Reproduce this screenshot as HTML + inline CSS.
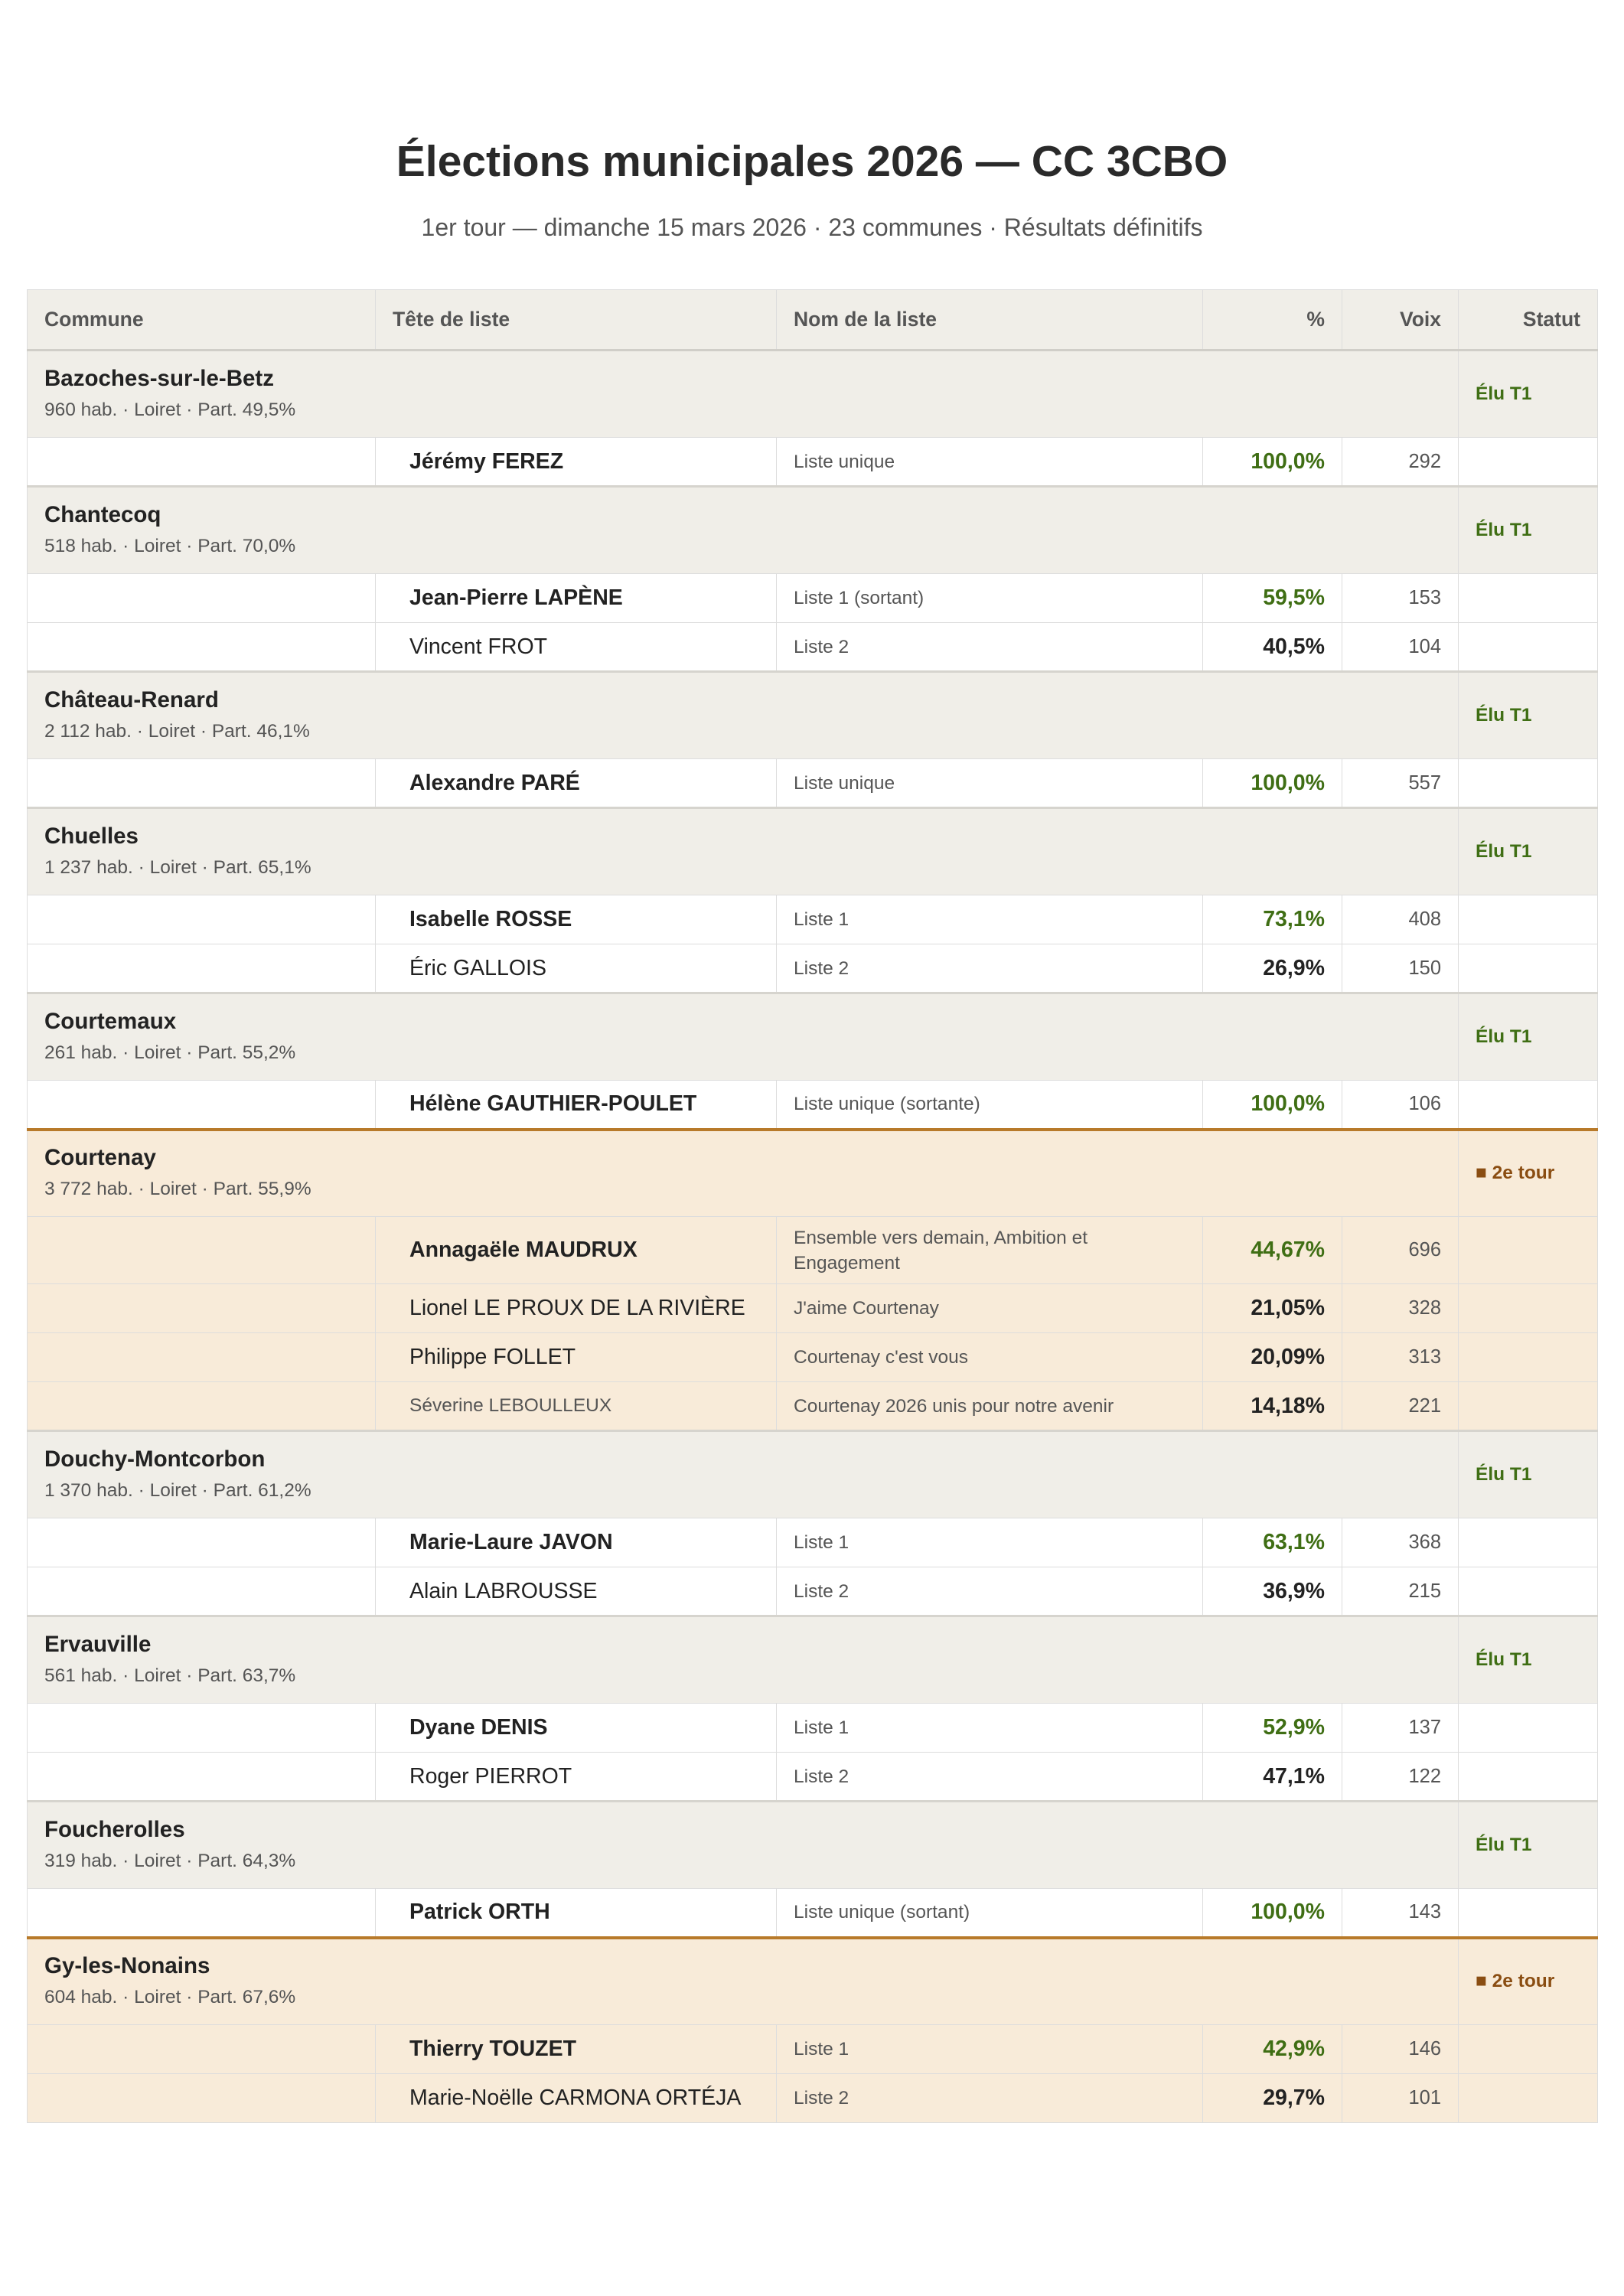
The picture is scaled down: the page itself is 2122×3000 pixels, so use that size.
<!DOCTYPE html>
<html><head><meta charset="utf-8"><style>
html,body{margin:0;padding:0;background:#fff;}
body{width:2122px;height:3000px;position:relative;font-family:"Liberation Sans",Arial,sans-serif;color:#222;}
h1{position:absolute;top:176px;left:0;width:2122px;margin:0;text-align:center;font-size:57px;font-weight:bold;color:#2a2a2a;line-height:70px;}
.sub{position:absolute;top:276px;left:0;width:2122px;text-align:center;font-size:32px;color:#555;line-height:42px;}
table{position:absolute;top:378px;left:35px;width:2052px;border-collapse:collapse;table-layout:fixed;}
td,th{border-left:1px solid #ddd;border-right:1px solid #ddd;padding:0 22px;box-sizing:border-box;vertical-align:middle;}
th{background:#f0eee8;height:79px;font-size:26.5px;color:#555;text-align:left;border-bottom:3px solid #d0cec8;border-top:1px solid #ddd;}
th.r{text-align:right;}
tr.g td{background:#f0eee8;height:114px;border-bottom:1px solid #ddd;}
tr.g.t2 td{background:#f8ebd9;border-top:4px solid #b87a2a;}
tr.c td{background:#fff;height:64px;border-bottom:1px solid #ddd;}
tr.c.t2 td{background:#f8ebd9;}
tr.c.last td{border-bottom:3px solid #d6d4ce;}
.cn{font-size:29.5px;font-weight:bold;color:#222;line-height:42px;}
.meta{font-size:24.5px;color:#555;line-height:40px;}
.st{font-size:24.5px;font-weight:bold;color:#3f6e14;}
.st2{font-size:24.5px;font-weight:bold;color:#8a4d12;}
.nm{font-size:28.5px;padding-left:44px;color:#222;}
.nm b{font-weight:bold;}
.ln{font-size:24.5px;color:#555;line-height:33px;}
.pc{font-size:28.5px;font-weight:bold;text-align:right;color:#222;}
.pc.w{color:#3f6e14;}
.vx{font-size:25.5px;text-align:right;color:#555;}
.small{font-size:24.5px;color:#555;}
</style></head><body>
<h1>Élections municipales 2026 — CC 3CBO</h1>
<div class="sub">1er tour — dimanche 15 mars 2026 · 23 communes · Résultats définitifs</div>
<table>
<colgroup><col style="width:455px"><col style="width:524px"><col style="width:557px"><col style="width:182px"><col style="width:152px"><col style="width:182px"></colgroup>
<tr><th>Commune</th><th>Tête de liste</th><th>Nom de la liste</th><th class="r">%</th><th class="r">Voix</th><th class="r">Statut</th></tr>

<tr class="g"><td colspan="5"><div class="cn">Bazoches-sur-le-Betz</div><div class="meta">960 hab. · Loiret · Part. 49,5%</div></td><td class="st">Élu T1</td></tr>
<tr class="c last"><td></td><td class="nm"><b>Jérémy FEREZ</b></td><td class="ln">Liste unique</td><td class="pc w">100,0%</td><td class="vx">292</td><td></td></tr>

<tr class="g"><td colspan="5"><div class="cn">Chantecoq</div><div class="meta">518 hab. · Loiret · Part. 70,0%</div></td><td class="st">Élu T1</td></tr>
<tr class="c"><td></td><td class="nm"><b>Jean-Pierre LAPÈNE</b></td><td class="ln">Liste 1 (sortant)</td><td class="pc w">59,5%</td><td class="vx">153</td><td></td></tr>
<tr class="c last"><td></td><td class="nm">Vincent FROT</td><td class="ln">Liste 2</td><td class="pc">40,5%</td><td class="vx">104</td><td></td></tr>

<tr class="g"><td colspan="5"><div class="cn">Château-Renard</div><div class="meta">2 112 hab. · Loiret · Part. 46,1%</div></td><td class="st">Élu T1</td></tr>
<tr class="c last"><td></td><td class="nm"><b>Alexandre PARÉ</b></td><td class="ln">Liste unique</td><td class="pc w">100,0%</td><td class="vx">557</td><td></td></tr>

<tr class="g"><td colspan="5"><div class="cn">Chuelles</div><div class="meta">1 237 hab. · Loiret · Part. 65,1%</div></td><td class="st">Élu T1</td></tr>
<tr class="c"><td></td><td class="nm"><b>Isabelle ROSSE</b></td><td class="ln">Liste 1</td><td class="pc w">73,1%</td><td class="vx">408</td><td></td></tr>
<tr class="c last"><td></td><td class="nm">Éric GALLOIS</td><td class="ln">Liste 2</td><td class="pc">26,9%</td><td class="vx">150</td><td></td></tr>

<tr class="g"><td colspan="5"><div class="cn">Courtemaux</div><div class="meta">261 hab. · Loiret · Part. 55,2%</div></td><td class="st">Élu T1</td></tr>
<tr class="c"><td></td><td class="nm"><b>Hélène GAUTHIER-POULET</b></td><td class="ln">Liste unique (sortante)</td><td class="pc w">100,0%</td><td class="vx">106</td><td></td></tr>

<tr class="g t2"><td colspan="5"><div class="cn">Courtenay</div><div class="meta">3 772 hab. · Loiret · Part. 55,9%</div></td><td class="st2">■ 2e tour</td></tr>
<tr class="c t2"><td style="height:88px"></td><td class="nm"><b>Annagaële MAUDRUX</b></td><td class="ln">Ensemble vers demain, Ambition et Engagement</td><td class="pc w">44,67%</td><td class="vx">696</td><td></td></tr>
<tr class="c t2"><td></td><td class="nm">Lionel LE PROUX DE LA RIVIÈRE</td><td class="ln">J'aime Courtenay</td><td class="pc">21,05%</td><td class="vx">328</td><td></td></tr>
<tr class="c t2"><td></td><td class="nm">Philippe FOLLET</td><td class="ln">Courtenay c'est vous</td><td class="pc">20,09%</td><td class="vx">313</td><td></td></tr>
<tr class="c t2 last"><td></td><td class="nm small">Séverine LEBOULLEUX</td><td class="ln">Courtenay 2026 unis pour notre avenir</td><td class="pc">14,18%</td><td class="vx">221</td><td></td></tr>

<tr class="g"><td colspan="5"><div class="cn">Douchy-Montcorbon</div><div class="meta">1 370 hab. · Loiret · Part. 61,2%</div></td><td class="st">Élu T1</td></tr>
<tr class="c"><td></td><td class="nm"><b>Marie-Laure JAVON</b></td><td class="ln">Liste 1</td><td class="pc w">63,1%</td><td class="vx">368</td><td></td></tr>
<tr class="c last"><td></td><td class="nm">Alain LABROUSSE</td><td class="ln">Liste 2</td><td class="pc">36,9%</td><td class="vx">215</td><td></td></tr>

<tr class="g"><td colspan="5"><div class="cn">Ervauville</div><div class="meta">561 hab. · Loiret · Part. 63,7%</div></td><td class="st">Élu T1</td></tr>
<tr class="c"><td></td><td class="nm"><b>Dyane DENIS</b></td><td class="ln">Liste 1</td><td class="pc w">52,9%</td><td class="vx">137</td><td></td></tr>
<tr class="c last"><td></td><td class="nm">Roger PIERROT</td><td class="ln">Liste 2</td><td class="pc">47,1%</td><td class="vx">122</td><td></td></tr>

<tr class="g"><td colspan="5"><div class="cn">Foucherolles</div><div class="meta">319 hab. · Loiret · Part. 64,3%</div></td><td class="st">Élu T1</td></tr>
<tr class="c"><td></td><td class="nm"><b>Patrick ORTH</b></td><td class="ln">Liste unique (sortant)</td><td class="pc w">100,0%</td><td class="vx">143</td><td></td></tr>

<tr class="g t2"><td colspan="5"><div class="cn">Gy-les-Nonains</div><div class="meta">604 hab. · Loiret · Part. 67,6%</div></td><td class="st2">■ 2e tour</td></tr>
<tr class="c t2"><td></td><td class="nm"><b>Thierry TOUZET</b></td><td class="ln">Liste 1</td><td class="pc w">42,9%</td><td class="vx">146</td><td></td></tr>
<tr class="c t2"><td></td><td class="nm">Marie-Noëlle CARMONA ORTÉJA</td><td class="ln">Liste 2</td><td class="pc">29,7%</td><td class="vx">101</td><td></td></tr>
</table>
</body></html>
